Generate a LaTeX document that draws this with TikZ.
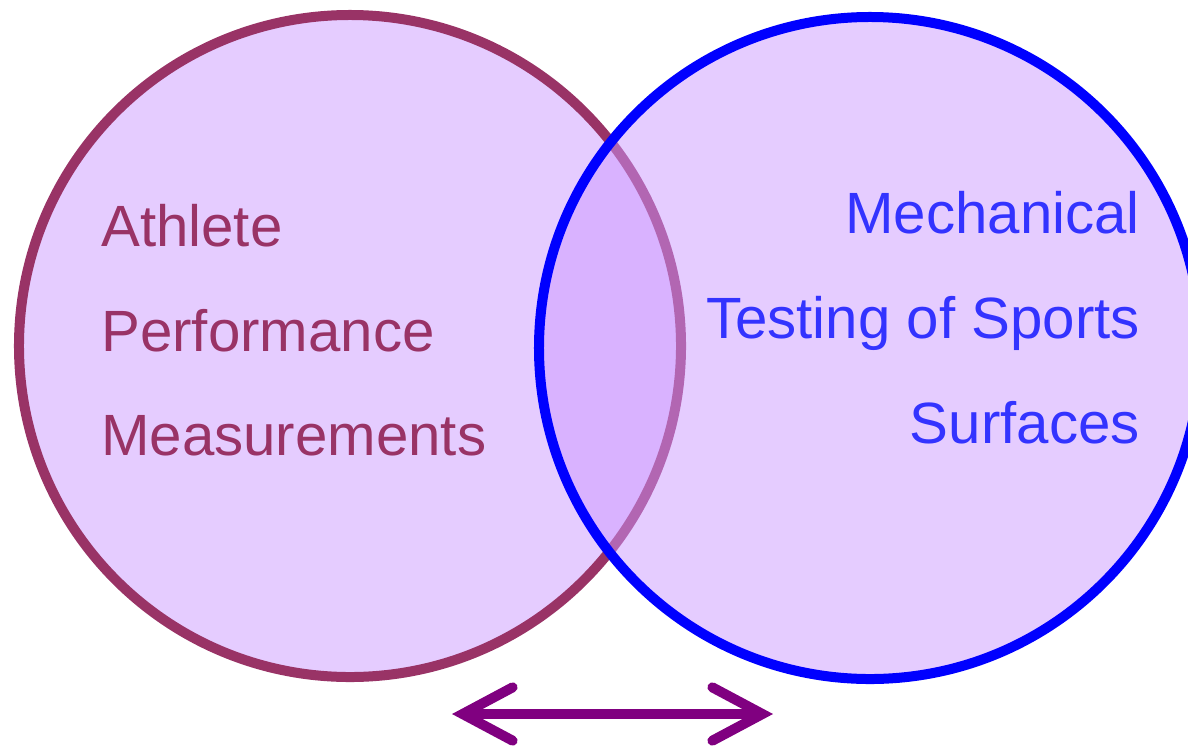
\documentclass[tikz,border=0pt]{standalone}
\usepackage{fontspec}
\setmainfont{Liberation Sans}
\usetikzlibrary{arrows.meta}

\definecolor{lilac}{HTML}{CC99FF}
\definecolor{plum}{HTML}{993366}
\definecolor{deepblue}{HTML}{0000FF}
\definecolor{textblue}{HTML}{3333FF}
\definecolor{arrowpurple}{HTML}{800080}

\tikzset{
  setcircle/.style={circle, inner sep=0pt, minimum size=19.86cm, line width=0.3cm,
    fill=lilac, fill opacity=0.5, draw opacity=1},
  leftlabel/.style={anchor=base west, inner sep=0pt, text=plum,
    font=\fontsize{49.7}{60}\selectfont},
  rightlabel/.style={anchor=base east, inner sep=0pt, text=textblue,
    font=\fontsize{49.7}{60}\selectfont}
}

\begin{document}
\begin{tikzpicture}[x=0.03cm, y=-0.03cm]
      \useasboundingbox (0, 0) rectangle (1188, 747);

      % Sets
      \node [setcircle, draw=plum] (athlete) at (350, 346) {};
      \node [setcircle, draw=deepblue] (surfaces) at (870, 348) {};

      % Labels
      \node [leftlabel] (athlete1) at (101, 246) {Athlete};
      \node [leftlabel] (athlete2) at (101, 351) {Performance};
      \node [leftlabel] (athlete3) at (101, 455) {Measurements};
      \node [rightlabel] (surfaces1) at (1140, 233) {Mechanical};
      \node [rightlabel] (surfaces2) at (1140, 338) {Testing of Sports};
      \node [rightlabel] (surfaces3) at (1140, 443) {Surfaces};

      % Arrow
      \coordinate (arrowleft) at (452, 714);
      \coordinate (arrowright) at (773, 714);
      \draw [arrowpurple, line width=0.3cm,
        {Straight Barb[length=1.5cm, width=1.6cm, line cap=round]}-{Straight Barb[length=1.5cm, width=1.6cm, line cap=round]}]
        (arrowleft) -- (arrowright);
    \end{tikzpicture}
\end{document}
